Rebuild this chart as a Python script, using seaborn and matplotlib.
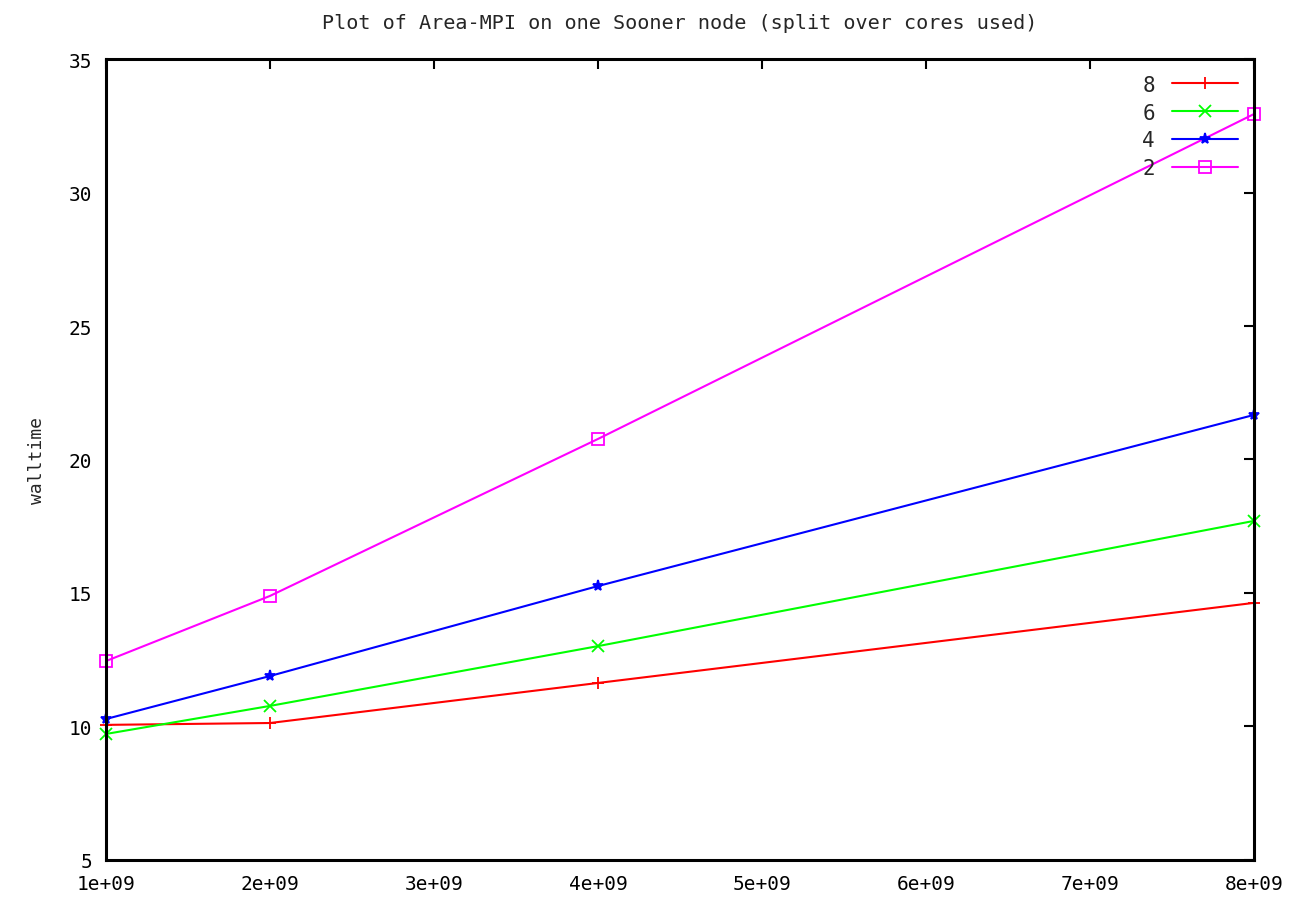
import matplotlib
matplotlib.use("Agg")
import matplotlib.pyplot as plt
import seaborn as sns
import pandas as pd

# Problem sizes and measured walltimes per core count
problem_size = [1e9, 2e9, 4e9, 8e9]
cores = ["8", "6", "4", "2"]
walltime_8 = [10.06, 10.13, 11.63, 14.63]
walltime_6 = [9.72, 10.77, 13.01, 17.70]
walltime_4 = [10.28, 11.89, 15.26, 21.67]
walltime_2 = [12.45, 14.89, 20.77, 32.94]
x_ticks = [1e9, 2e9, 3e9, 4e9, 5e9, 6e9, 7e9, 8e9]
x_tick_labels = ["1e+09", "2e+09", "3e+09", "4e+09", "5e+09", "6e+09", "7e+09", "8e+09"]
y_ticks = [5, 10, 15, 20, 25, 30, 35]

series = {"8": walltime_8, "6": walltime_6, "4": walltime_4, "2": walltime_2}
df = pd.concat(
    [pd.DataFrame({"size": problem_size, "walltime": v, "cores": k}) for k, v in series.items()],
    ignore_index=True,
)

sns.set_style("white")
plt.rcParams["font.family"] = ["DejaVu Sans Mono"]

colors = {"8": "#ff0000", "6": "#00ff00", "4": "#0000ff", "2": "#ff00ff"}
markers = {"8": "+", "6": "x", "4": "*", "2": "s"}

fig = plt.figure(figsize=(12.94, 9.04), dpi=100)
ax = fig.add_axes([0.0819, 0.0476, 0.8872, 0.886])

for c in cores:
    sub = df[df["cores"] == c]
    sns.lineplot(
        data=sub, x="size", y="walltime", ax=ax, color=colors[c], label=c,
        marker=markers[c], markersize=8, markeredgewidth=1.3,
        markerfacecolor="none" if c == "2" else colors[c],
        markeredgecolor=colors[c], linewidth=1.5, estimator=None,
        clip_on=False, zorder=3,
    )

ax.set_xlim(1e9, 8e9)
ax.set_ylim(5, 35)
ax.set_xticks(x_ticks)
ax.set_xticklabels(x_tick_labels)
ax.set_yticks(y_ticks)
ax.tick_params(direction="in", length=7, width=1.5, top=True, right=True,
               labelsize=14, pad=10, colors="black")
for s in ax.spines.values():
    s.set_linewidth(2.2)
    s.set_color("black")
    s.set_zorder(4)
ax.set_xlabel("")
ax.set_ylabel("walltime", fontsize=13, labelpad=16)
ax.set_title("Plot of Area-MPI on one Sooner node (split over cores used)",
             fontsize=14.5, pad=22)

leg = ax.legend(loc="upper right", frameon=False, markerfirst=False,
                fontsize=15, handlelength=3.2, handletextpad=0.8,
                labelspacing=0.38, borderaxespad=0.35)

fig.savefig("out.png", dpi=100)
